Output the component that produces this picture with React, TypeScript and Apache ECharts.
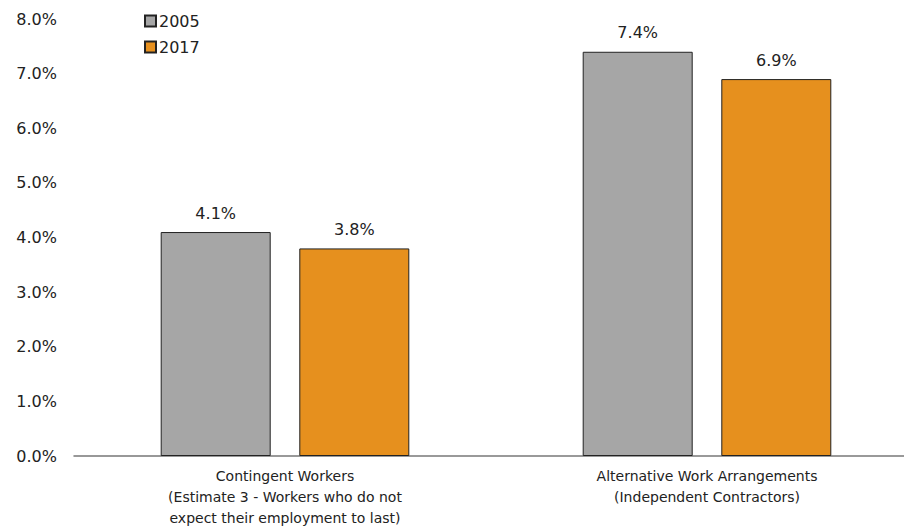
import React, { useEffect, useRef } from "react";
import * as echarts from "echarts";

const categories = [
  "Contingent Workers\n(Estimate 3 - Workers who do not\nexpect their employment to last)",
  "Alternative Work Arrangements\n(Independent Contractors)",
];
const series2005 = [4.1, 7.4];
const series2017 = [3.8, 6.9];
const seriesNames = ["2005", "2017"];

const FONT = "'DejaVu Sans', sans-serif";

export default function App() {
  const ref = useRef<HTMLDivElement>(null);
  useEffect(() => {
    if (!ref.current) return;
    const chart = echarts.init(ref.current, null, { renderer: "svg" });
    const label = {
      show: true,
      position: "top" as const,
      distance: 11,
      formatter: (p: any) => p.value.toFixed(1) + "%",
      fontFamily: FONT,
      fontSize: 16,
      color: "#222",
    };
    chart.setOption({
      animation: false,
      textStyle: { fontFamily: FONT },
      grid: {
        left: 74,
        width: 844,
        top: 19,
        bottom: 73,
        containLabel: false,
        outerBoundsMode: "none",
      },
      legend: {
        orient: "vertical",
        left: 139,
        top: 8,
        icon: "rect",
        itemWidth: 11,
        itemHeight: 11,
        itemGap: 10,
        textStyle: { fontFamily: FONT, fontSize: 16, color: "#222", padding: [0, 0, 0, -2] },
        data: seriesNames,
      },
      xAxis: {
        type: "category",
        data: categories,
        axisLine: { lineStyle: { color: "#777", width: 1.5 } },
        axisTick: { show: false },
        axisLabel: {
          fontFamily: FONT,
          fontSize: 14,
          lineHeight: 21,
          color: "#222",
          margin: 9,
          interval: 0,
        },
      },
      yAxis: {
        type: "value",
        min: 0,
        max: 8,
        interval: 1,
        splitLine: { show: false },
        axisLine: { show: false },
        axisTick: { show: false },
        axisLabel: {
          formatter: (v: number) => v.toFixed(1) + "%",
          fontFamily: FONT,
          fontSize: 16,
          color: "#222",
          margin: 17,
        },
      },
      series: [
        {
          name: seriesNames[0],
          type: "bar",
          data: series2005,
          barWidth: 110,
          barGap: "26%",
          itemStyle: { color: "#A6A6A6", borderColor: "#222", borderWidth: 1 },
          label,
        },
        {
          name: seriesNames[1],
          type: "bar",
          data: series2017,
          barWidth: 110,
          barGap: "26%",
          itemStyle: { color: "#E6901E", borderColor: "#222", borderWidth: 1 },
          label,
        },
      ],
    });
    return () => chart.dispose();
  }, []);
  return <div ref={ref} style={{ width: 904, height: 529, position: "absolute", left: 0, top: 0 }} />;
}
